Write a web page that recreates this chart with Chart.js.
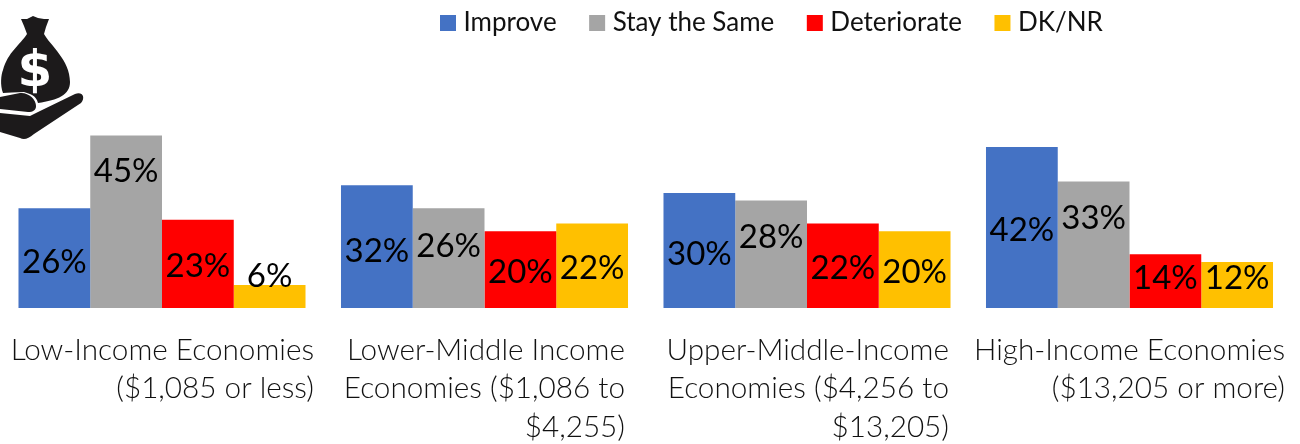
<!DOCTYPE html>
<html><head><meta charset="utf-8">
<style>
html,body{margin:0;padding:0;background:#fff;width:1300px;height:444px;overflow:hidden}
#wrap{position:relative;width:1300px;height:444px}
canvas{position:absolute;left:0;top:0}
svg{position:absolute;left:0;top:0}
</style>
<script src="https://cdn.jsdelivr.net/npm/chart.js@4"></script>
</head><body>
<div id="wrap">
<canvas id="c" width="1300" height="444"></canvas>
<svg width="100" height="150" viewBox="0 0 100 150">
<path fill="#1c1a1b" d="M21 19 L27 19 L33 16 L38 18 L44 19 L49 19 L46 27 L44 34 C50 45 70 60 70 82 C70 95 58 100 38 103 C36 95 30 94 24 92 C15 92 8 93 3 93 C0 85 1 75 3 70 C8 52 20 45 27 34 L24 26 Z"/>
<path fill="#1c1a1b" d="M0 97 L20 93 C28 92 36 99 36 106 C36 110 33 112 28 112 L0 109 Z"/>
<path fill="#1c1a1b" d="M0 113 L30 116 L38 112 L75 94 C82 91 86 97 81 103 L34 134 C28 139 24 140 20 138 L0 132 Z"/>
<text x="35" y="86" text-anchor="middle" font-family="DejaVu Sans" font-weight="bold" font-size="50" fill="#fff">$</text>
</svg>
</div>
<script>
const categories = [
  ['Low-Income Economies','($1,085 or less)'],
  ['Lower-Middle Income','Economies ($1,086 to','$4,255)'],
  ['Upper-Middle-Income','Economies ($4,256 to','$13,205)'],
  ['High-Income Economies','($13,205 or more)']
];
const improve = [26,32,30,42];
const staySame = [45,26,28,33];
const deteriorate = [23,20,22,14];
const dkNr = [6,22,20,12];

// Placement of the value labels and the right-hand edge of the category labels
const labelLift = [[46,57,54,78],[137,62,71,90],[42,36,40,30],[32,40,36,30]];
const tickShift = [152,140.5,142,155.5];
const FONT = 'Lato';

const placement = {
  id:'placement',
  afterLayout(chart){
    const l = chart.legend;
    const w = l.right - l.left;
    l.left = 407.5; l.right = l.left + w;
    l.top = l.top - 28;
  },
  beforeDraw(chart){
    const x = chart.scales.x;
    x.getLabelItems().forEach((it,i)=>{
      it.options.translation[0] = x.getPixelForTick(i) + tickShift[i];
    });
  },
  afterDatasetsDraw(chart){
    const ctx = chart.ctx;
    ctx.save();
    ctx.font = '400 33px '+FONT;
    ctx.fillStyle = '#000';
    ctx.textAlign = 'center';
    ctx.textBaseline = 'middle';
    chart.data.datasets.forEach((ds,d)=>{
      chart.getDatasetMeta(d).data.forEach((bar,i)=>{
        ctx.fillText(ds.data[i]+'%', bar.x, bar.base - labelLift[d][i]);
      });
    });
    ctx.restore();
  }
};

new Chart(document.getElementById('c'),{
  type:'bar',
  data:{
    labels:categories,
    datasets:[
      {label:'Improve',data:improve,backgroundColor:'#4472C4'},
      {label:'Stay the Same',data:staySame,backgroundColor:'#A5A5A5'},
      {label:'Deteriorate',data:deteriorate,backgroundColor:'#FF0000'},
      {label:'DK/NR',data:dkNr,backgroundColor:'#FFC000'}
    ]
  },
  options:{
    responsive:false,
    animation:false,
    events:[],
    layout:{padding:{left:0.75,right:9.25,top:0,bottom:0}},
    datasets:{bar:{categoryPercentage:0.89,barPercentage:1}},
    plugins:{
      tooltip:{enabled:false},
      legend:{
        display:true,position:'top',align:'start',
        labels:{
          font:{family:FONT,size:26,weight:'400'},color:'#111',
          boxWidth:5,boxHeight:5,padding:38,
          generateLabels(chart){
            return Chart.defaults.plugins.legend.labels.generateLabels(chart).map(it=>{
              it.strokeStyle = it.fillStyle; it.lineWidth = 11; return it;
            });
          }
        }
      }
    },
    scales:{
      y:{display:false,min:0,max:61,grid:{display:false}},
      x:{
        grid:{display:false},border:{display:false},
        afterFit(s){ s.paddingLeft = 0; s.paddingRight = 0; s.height = 136; },
        ticks:{
          autoSkip:false,maxRotation:0,minRotation:0,align:'end',padding:15,
          color:'#111',font:{family:FONT,size:29.7,weight:'300',lineHeight:1.3}
        }
      }
    }
  },
  plugins:[placement]
});
</script>
</body></html>
